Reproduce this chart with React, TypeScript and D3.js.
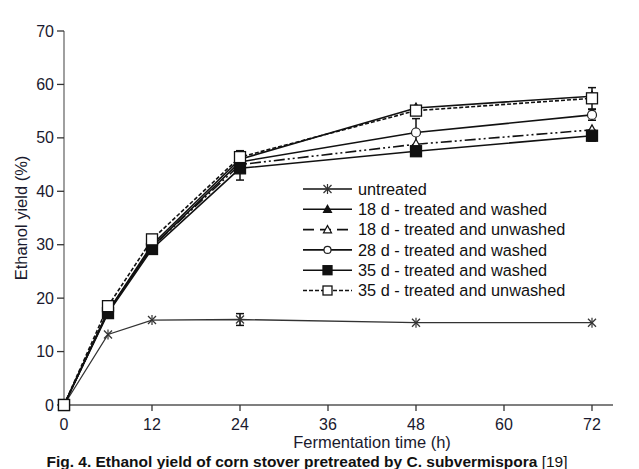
import React from "react";
import * as d3 from "d3";

// fermentation times (h)
const times = [0, 6, 12, 24, 48, 72];
const xTicks = [0, 12, 24, 36, 48, 60, 72];
const yTicks = [0, 10, 20, 30, 40, 50, 60, 70];

const untreated = [0, 13.2, 15.9, 16.0, 15.4, 15.4];
const d18Washed = [0, 17.5, 30.0, 46.0, 55.6, 57.8];
const d18Unwashed = [0, 17.4, 29.6, 45.0, 48.8, 51.5];
const d28Washed = [0, 17.5, 29.6, 45.5, 51.0, 54.3];
const d35Washed = [0, 17.2, 29.2, 44.3, 47.5, 50.4];
const d35Unwashed = [0, 18.5, 31.0, 46.4, 55.1, 57.4];

// error bar half-widths
const untreatedErr = [0, 0, 0, 1.1, 0, 0];
const d18WashedErr = [0, 0, 0, 0, 0, 0];
const d28WashedErr = [0, 0, 0, 0, 2.6, 1.0];
const d35WashedErr = [0, 0, 0, 2.2, 0, 1.0];
const d35UnwashedErr = [0, 0, 0, 1.2, 0, 2.0];

const series = [
  { name: "untreated", values: untreated, err: untreatedErr, marker: "star", dash: "" },
  { name: "18 d - treated and washed", values: d18Washed, err: d18WashedErr, marker: "triFilled", dash: "" },
  { name: "18 d - treated and unwashed", values: d18Unwashed, err: null, marker: "triOpen", dash: "11,3,2,3,2,3" },
  { name: "28 d - treated and washed", values: d28Washed, err: d28WashedErr, marker: "circle", dash: "" },
  { name: "35 d - treated and washed", values: d35Washed, err: d35WashedErr, marker: "sqFilled", dash: "" },
  { name: "35 d - treated and unwashed", values: d35Unwashed, err: d35UnwashedErr, marker: "sqOpen", dash: "4,2" },
];

const W = 639;
const H = 469;
const font = "Liberation Sans, Arial, sans-serif";

const x = d3.scaleLinear().domain([0, 72]).range([64, 592]);
const y = d3.scaleLinear().domain([0, 70]).range([405, 31]);

function Marker({ kind, cx, cy, small }: { kind: string; cx: number; cy: number; small?: boolean }) {
  const s = small ? 4.5 : 5.5;
  if (kind === "star")
    return (
      <g stroke="#333" strokeWidth={1.2}>
        <line x1={cx - 4} y1={cy - 4} x2={cx + 4} y2={cy + 4} />
        <line x1={cx - 4} y1={cy + 4} x2={cx + 4} y2={cy - 4} />
        <line x1={cx} y1={cy - 5} x2={cx} y2={cy + 5} />
      </g>
    );
  if (kind === "triFilled" || kind === "triOpen") {
    const t = small ? 4 : 5;
    return (
      <path
        d={`M${cx},${cy - t}L${cx + t},${cy + t * 0.8}L${cx - t},${cy + t * 0.8}Z`}
        fill={kind === "triFilled" ? "#111" : "#fff"}
        stroke="#111"
        strokeWidth={1.2}
      />
    );
  }
  if (kind === "circle")
    return <circle cx={cx} cy={cy} r={small ? 3.5 : 4.5} fill="#fff" stroke="#222" strokeWidth={1.2} />;
  return (
    <rect
      x={cx - s}
      y={cy - s}
      width={s * 2}
      height={s * 2}
      fill={kind === "sqFilled" ? "#111" : "#fff"}
      stroke="#111"
      strokeWidth={1.3}
    />
  );
}

export default function App() {
  const line = d3
    .line<number>()
    .x((_, i) => x(times[i]))
    .y((d) => y(d));

  const legendX1 = 303;
  const legendX2 = 352;
  const legendY0 = 189;
  const legendStep = 20.3;

  return (
    <svg
      width={W}
      height={H}
      style={{ position: "absolute", left: 0, top: 0, background: "#fff" }}
      fontFamily={font}
    >
      {/* axes */}
      <line x1={64} y1={31} x2={64} y2={405} stroke="#888" strokeWidth={1.6} />
      <line x1={64} y1={405} x2={613} y2={405} stroke="#555" strokeWidth={1.6} />
      {yTicks.map((t) => (
        <g key={"y" + t}>
          <line x1={57} x2={64} y1={y(t)} y2={y(t)} stroke="#333" strokeWidth={1.3} />
          <text x={54} y={y(t)} dy="0.35em" textAnchor="end" fontSize={16} fill="#1a1a2e">
            {t}
          </text>
        </g>
      ))}
      {xTicks.map((t) => (
        <g key={"x" + t}>
          <line x1={x(t)} x2={x(t)} y1={405} y2={411} stroke="#333" strokeWidth={1.3} />
          <text x={x(t)} y={430} textAnchor="middle" fontSize={16} fill="#1a1a2e">
            {t}
          </text>
        </g>
      ))}
      <text x={372} y={448} textAnchor="middle" fontSize={16.5} fill="#1a1a2e">
        Fermentation time (h)
      </text>
      <text
        transform={`translate(27,${218}) rotate(-90)`}
        textAnchor="middle"
        fontSize={16.5}
        fill="#1a1a2e"
      >
        Ethanol yield (%)
      </text>
      <text x={307} y={467} textAnchor="middle" fontSize={15.5} fill="#111">
        <tspan fontWeight="bold">Fig. 4. Ethanol yield of corn stover pretreated by C. subvermispora</tspan>
        <tspan> [19]</tspan>
      </text>

      {/* series lines */}
      {series.map((s) => (
        <path
          key={"l" + s.name}
          d={line(s.values) || ""}
          fill="none"
          stroke={s.marker === "star" ? "#333" : "#111"}
          strokeWidth={s.marker === "star" ? 1.3 : 1.6}
          strokeDasharray={s.dash}
        />
      ))}

      {/* error bars */}
      {series.map((s) =>
        s.err
          ? s.values.map((v, i) =>
              s.err![i] > 0 ? (
                <g key={"e" + s.name + i} stroke="#111" strokeWidth={1.5}>
                  <line x1={x(times[i])} x2={x(times[i])} y1={y(v + s.err![i])} y2={y(v - s.err![i])} />
                  <line x1={x(times[i]) - 4} x2={x(times[i]) + 4} y1={y(v + s.err![i])} y2={y(v + s.err![i])} />
                  <line x1={x(times[i]) - 4} x2={x(times[i]) + 4} y1={y(v - s.err![i])} y2={y(v - s.err![i])} />
                </g>
              ) : null
            )
          : null
      )}

      {/* markers */}
      {series.map((s) =>
        s.values.map((v, i) => (
          <Marker key={"m" + s.name + i} kind={s.marker} cx={x(times[i])} cy={y(v)} />
        ))
      )}

      {/* legend */}
      {series.map((s, i) => {
        const ly = legendY0 + i * legendStep;
        return (
          <g key={"lg" + s.name}>
            <line
              x1={legendX1}
              x2={legendX2}
              y1={ly}
              y2={ly}
              stroke="#111"
              strokeWidth={1.6}
              strokeDasharray={s.dash ? (s.marker === "triOpen" ? "11,6" : "4,2") : ""}
            />
            <Marker kind={s.marker} cx={(legendX1 + legendX2) / 2} cy={ly} small />
            <text x={358} y={ly} dy="0.35em" fontSize={16.3} fill="#111">
              {s.name}
            </text>
          </g>
        );
      })}
    </svg>
  );
}
